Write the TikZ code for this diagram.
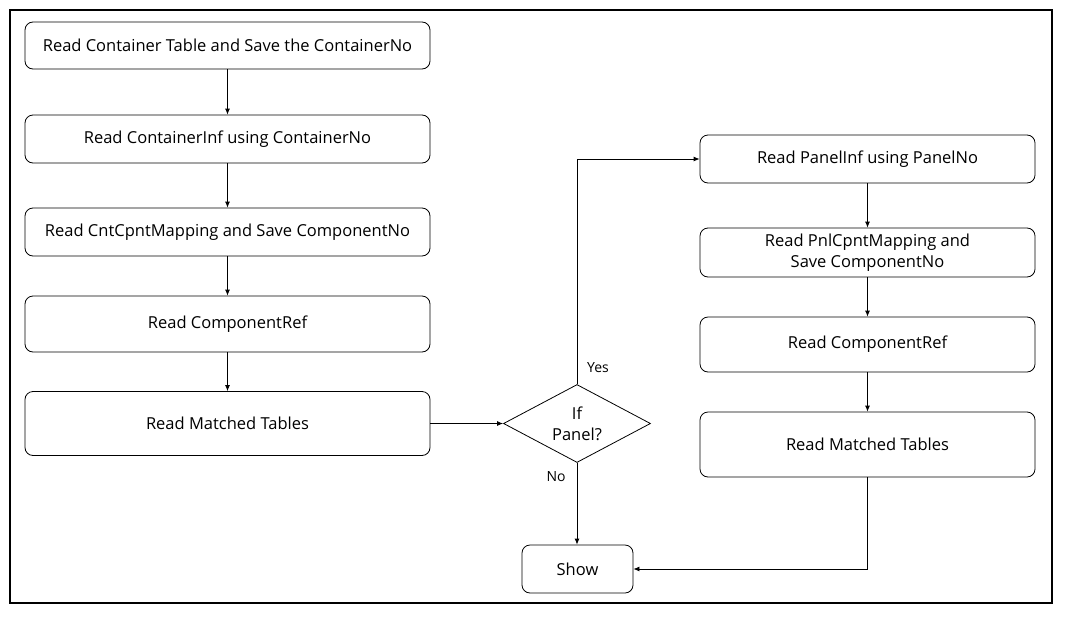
\documentclass[tikz,border=0pt]{standalone}
\usepackage{fontspec}
\setmainfont{Open Sans}
\usetikzlibrary{shapes.geometric, arrows.meta, positioning}

\begin{document}
\begin{tikzpicture}[x=1pt, y=-1pt,
  stepbox/.style={draw, rounded corners=8pt, line width=0.8pt, align=center, inner sep=0pt, font=\fontsize{16.5}{21}\selectfont},
  leftbox/.style={stepbox, minimum width=405pt},
  rightbox/.style={stepbox, minimum width=335pt},
  decision/.style={draw, diamond, aspect=1.9, inner sep=0pt, line width=0.8pt, minimum width=147pt, minimum height=78pt, align=center, font=\fontsize{16.5}{21}\selectfont},
  flow/.style={-{Latex[length=6pt, width=5pt]}, line width=0.8pt},
  answer/.style={font=\fontsize{14}{16}\selectfont}]
\useasboundingbox (0,0) rectangle (1073,616);
\draw[line width=1.6pt] (10,10) rectangle (1052,603);

% left column
\node[leftbox, minimum height=47pt] (read1) at (227.5,45.5) {Read Container Table and Save the ContainerNo};
\node[leftbox, minimum height=48pt] (read2) at (227.5,139) {Read ContainerInf using ContainerNo};
\node[leftbox, minimum height=48pt] (read3) at (227.5,232) {Read CntCpntMapping and Save ComponentNo};
\node[leftbox, minimum height=56pt] (read4) at (227.5,324) {Read ComponentRef};
\node[leftbox, minimum height=64pt] (read5) at (227.5,423.5) {Read Matched Tables};

% decision and end
\node[decision] (panel) at (577,423.5) {If\\Panel?};
\node[stepbox, minimum width=111pt, minimum height=48pt] (show) at (577.5,569) {Show};

% right column
\node[rightbox, minimum height=48pt] (pnl1) at (867.5,159) {Read PanelInf using PanelNo};
\node[rightbox, minimum height=49pt] (pnl2) at (867.5,252.5) {Read PnlCpntMapping and\\Save ComponentNo};
\node[rightbox, minimum height=55pt] (pnl3) at (867.5,344.5) {Read ComponentRef};
\node[rightbox, minimum height=65pt] (pnl4) at (867.5,444.5) {Read Matched Tables};

\node[answer] (yes) at (598,368) {Yes};
\node[answer] (no) at (556,477) {No};

\draw[flow] (read1) -- (read2);
\draw[flow] (read2) -- (read3);
\draw[flow] (read3) -- (read4);
\draw[flow] (read4) -- (read5);
\draw[flow] (read5.east) -- (panel.west);
\draw[flow] (panel.north) |- (pnl1.west);
\draw[flow] (pnl1) -- (pnl2);
\draw[flow] (pnl2) -- (pnl3);
\draw[flow] (pnl3) -- (pnl4);
\draw[flow] (panel.south) -- (panel.south |- show.north);
\draw[flow] (pnl4.south) |- (show.east);
\end{tikzpicture}
\end{document}
